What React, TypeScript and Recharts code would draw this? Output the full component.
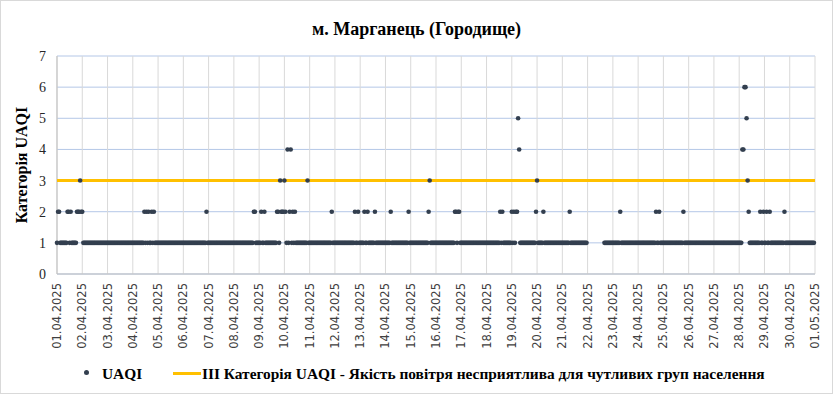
import { ScatterChart, Scatter, XAxis, YAxis, CartesianGrid } from 'recharts';

// x axis labels, one per day boundary
const dateLabels = [
  '01.04.2025', '02.04.2025', '03.04.2025', '04.04.2025', '05.04.2025', '06.04.2025',
  '07.04.2025', '08.04.2025', '09.04.2025', '10.04.2025', '11.04.2025', '12.04.2025',
  '13.04.2025', '14.04.2025', '15.04.2025', '16.04.2025', '17.04.2025', '18.04.2025',
  '19.04.2025', '20.04.2025', '21.04.2025', '22.04.2025', '23.04.2025', '24.04.2025',
  '25.04.2025', '26.04.2025', '27.04.2025', '28.04.2025', '29.04.2025', '30.04.2025',
  '01.05.2025',
];

const yTicks = [0, 1, 2, 3, 4, 5, 6, 7];

// hourly UAQI category, one string per day (hours 0-23 in groups of 4, '-' = no data)
const hourlyUaqi = [
  '1221 1111 1122 1211 1112 2232', // 01.04
  '2111 1111 1111 1111 1111 1111',
  '1111 1111 1111 1111 1111 1111',
  '1111 1111 1112 1212 1121 2111',
  '1111 1111 1111 1111 1111 1111',
  '1111 1111 1111 1111 1111 1121', // 06.04
  '1111 1111 1111 1111 1111 1111',
  '1111 1111 1111 1111 1112 2111',
  '1121 1211 1111 1111 1221 3222',
  '3214 1241 2121 1111 1111 1131', // 10.04
  '1111 1111 1111 1111 1111 1211',
  '1111 1111 1111 1111 1112 1121',
  '1111 2112 1111 1121 1111 1111',
  '1111 1211 1111 1111 1111 1121',
  '1111 1111 1111 1111 1231 1111', // 15.04
  '1111 1111 1111 1111 1122 1221',
  '1111 1111 1111 1111 1111 1111',
  '1111 1111 1111 1212 1111 1111',
  '2121 2254 1111 1111 1111 1112',
  '3111 1121 1111 1111 1111 1111', // 20.04
  '1111 1112 1111 1111 1111 1111',
  '---- ---- ---- ---- 1111 1111',
  '1111 1112 1111 1111 1111 1111',
  '1111 1111 1111 1111 1211 2111',
  '1111 1111 1111 1111 1112 1111', // 25.04
  '1111 1111 1111 1111 1111 1111',
  '1111 1111 1111 1111 1111 1111',
  '1114 4665 3211 1111 1111 2112',
  '1121 1211 1111 1111 1112 1111',
  '1111 1111 1111 1111 1111 1111', // 30.04
];

const thresholdLevel = 3;

const uaqiPoints = hourlyUaqi
  .flatMap((day, d) =>
    day
      .replace(/ /g, '')
      .split('')
      .map((v, h) => ({ hour: d * 24 + h, value: v === '-' ? null : Number(v) }))
  )
  .filter((p) => p.value !== null);

const lastHour = (dateLabels.length - 1) * 24;
const dayTicks = dateLabels.map((_, i) => i * 24);
const thresholdPoints = [
  { hour: 0, value: thresholdLevel },
  { hour: lastHour, value: thresholdLevel },
];

const serif = '"Liberation Serif", "Times New Roman", serif';

const DateTick = ({ x, y, payload }: any) => (
  <text
    x={x}
    y={y}
    transform={`rotate(-90, ${x}, ${y})`}
    textAnchor="end"
    dy="0.35em"
    fontFamily="DejaVu Sans"
    fontSize={11.5}
    fill="#404040"
  >
    {dateLabels[Math.round(payload.value / 24)]}
  </text>
);

const Dot = ({ cx, cy }: any) => <circle cx={cx} cy={cy} r={2.3} fill="#333f4f" />;

export default function App() {
  return (
    <div style={{ position: 'absolute', left: 0, top: 0, width: 833, height: 394, background: '#fff' }}>
      <ScatterChart width={833} height={394} margin={{ top: 56, right: 18, bottom: 40, left: 0 }}>
        <CartesianGrid vertical={false} stroke="#b4c7e7" />
        <CartesianGrid horizontal={false} stroke="#d9d9d9" />
        <XAxis
          dataKey="hour"
          type="number"
          domain={[0, lastHour]}
          ticks={dayTicks}
          interval={0}
          height={80}
          tickLine={false}
          tickMargin={3}
          stroke="#bfbfbf"
          tick={<DateTick />}
        />
        <YAxis
          dataKey="value"
          type="number"
          domain={[0, 7]}
          ticks={yTicks}
          interval={0}
          width={57}
          tickLine={false}
          tickMargin={5}
          stroke="#bfbfbf"
          tick={{ fontFamily: serif, fontSize: 14, fill: '#262626' }}
        />
        <Scatter
          data={thresholdPoints}
          line={{ stroke: '#FFC000', strokeWidth: 3 }}
          shape={() => <g />}
          isAnimationActive={false}
        />
        <Scatter data={uaqiPoints} shape={<Dot />} isAnimationActive={false} />
      </ScatterChart>

      <div
        style={{
          position: 'absolute', left: 0, top: 19, width: 833, textAlign: 'center',
          fontFamily: serif, fontWeight: 'bold', fontSize: 18, lineHeight: '21px', color: '#000',
        }}
      >
        м. Марганець (Городище)
      </div>

      <div
        style={{
          position: 'absolute', left: 22, top: 165, transform: 'translate(-50%, -50%) rotate(-90deg)',
          whiteSpace: 'nowrap', fontFamily: serif, fontWeight: 'bold', fontSize: 16, color: '#000',
        }}
      >
        Категорія UAQI
      </div>

      {/* legend */}
      <div style={{ position: 'absolute', left: 84, top: 370, width: 5, height: 5, borderRadius: '50%', background: '#333f4f' }} />
      <div style={{ position: 'absolute', left: 102, top: 365, fontFamily: serif, fontWeight: 'bold', fontSize: 15.4, lineHeight: '17px', whiteSpace: 'nowrap' }}>
        UAQI
      </div>
      <div style={{ position: 'absolute', left: 173, top: 372, width: 28, height: 3, background: '#FFC000' }} />
      <div style={{ position: 'absolute', left: 202, top: 365, fontFamily: serif, fontWeight: 'bold', fontSize: 15.4, lineHeight: '17px', whiteSpace: 'nowrap' }}>
        III Категорія UAQI - Якість повітря несприятлива для чутливих груп населення
      </div>

      <div style={{ position: 'absolute', left: 0, top: 0, width: 833, height: 394, boxSizing: 'border-box', border: '1px solid #d9d9d9', pointerEvents: 'none' }} />
    </div>
  );
}
